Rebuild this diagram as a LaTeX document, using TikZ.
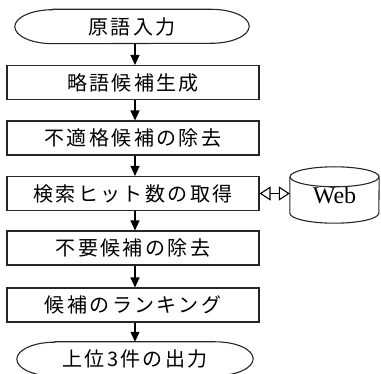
\documentclass[tikz,border=0pt]{standalone}
\usepackage{fontspec}
\setmainfont{Liberation Serif}
\newfontfamily\jp[LetterSpace=12]{Noto Sans CJK JP}
\usetikzlibrary{arrows.meta}
\tikzset{
  x=1pt,y=1pt,
  proc/.style={draw=black!85,line width=1.1pt,minimum width=252,minimum height=34,inner sep=0,font=\jp\fontsize{20}{22}\selectfont},
  termtext/.style={minimum width=234,minimum height=34,inner sep=0,font=\jp\fontsize{20}{22}\selectfont},
  termline/.style={draw=black!85,line width=1.1pt},
  flow/.style={line width=1.3pt,-{Triangle[length=10pt,width=9pt]}},
  dbl/.style={line width=1.1pt,{Triangle[open,length=11pt,width=14pt]}-{Triangle[open,length=11pt,width=14pt]}},
  dbtext/.style={minimum width=89,minimum height=56,inner sep=0,font=\fontsize{24}{26}\selectfont},
  dbline/.style={draw=black!85,line width=1.1pt}
}
\begin{document}
\begin{tikzpicture}
\useasboundingbox (0,0) rectangle (381,-374);
\node[termtext] (t1) at (132,-26.5) {原語入力};
\draw[termline] ([xshift=38]t1.north west) -- ([xshift=-38]t1.north east)
  arc[start angle=90,end angle=-90,x radius=38,y radius=17]
  -- ([xshift=38]t1.south west)
  arc[start angle=270,end angle=90,x radius=38,y radius=17] -- cycle;
\node[proc] (b1) at (133,-82.5) {略語候補生成};
\node[proc] (b2) at (133,-138) {不適格候補の除去};
\node[proc] (b3) at (133,-193.5) {検索ヒット数の取得};
\node[proc] (b4) at (133,-248) {不要候補の除去};
\node[proc] (b5) at (133,-305) {候補のランキング};
\node[termtext,minimum width=236] (t2) at (135,-359) {上位3件の出力};
\draw[termline] ([xshift=38]t2.north west) -- ([xshift=-38]t2.north east)
  arc[start angle=90,end angle=-90,x radius=38,y radius=17]
  -- ([xshift=38]t2.south west)
  arc[start angle=270,end angle=90,x radius=38,y radius=17] -- cycle;
\node[dbtext] (web) at (334.5,-195) {Web};
\draw[dbline] ([yshift=-10]web.north west) -- ([yshift=10]web.south west)
  arc[start angle=180,end angle=360,x radius=44.5,y radius=10]
  -- ([yshift=-10]web.north east);
\draw[dbline] ([yshift=-10]web.north) ellipse[x radius=44.5,y radius=10];
\draw[flow] (t1.south -| 135,0) -- (b1.north -| 135,0);
\draw[flow] (b1.south -| 135,0) -- (b2.north -| 135,0);
\draw[flow] (b2.south -| 135,0) -- (b3.north -| 135,0);
\draw[flow] (b3.south -| 135,0) -- (b4.north -| 135,0);
\draw[flow] (b4.south -| 135,0) -- (b5.north -| 135,0);
\draw[flow] (b5.south -| 135,0) -- (t2.north -| 135,0);
\draw[dbl] (b3.east) -- (web.west |- b3.east);
\end{tikzpicture}
\end{document}
